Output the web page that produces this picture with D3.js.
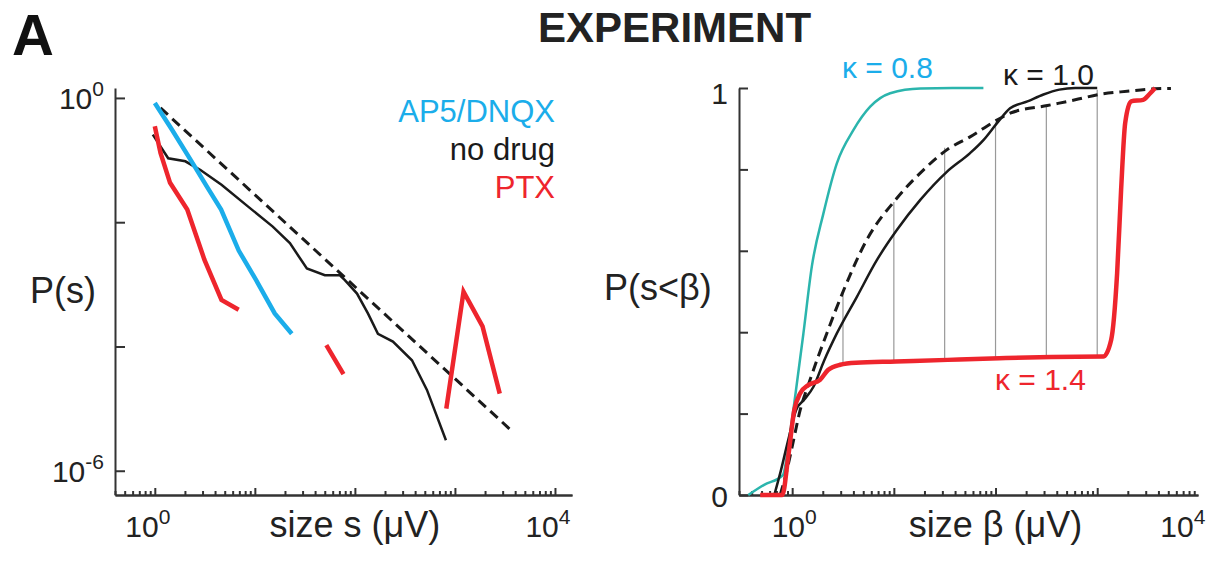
<!DOCTYPE html>
<html>
<head>
<meta charset="utf-8">
<script src="https://cdn.jsdelivr.net/npm/d3@7"></script>
<style>
  body { margin: 0; background: #fff; }
  svg { display: block; font-family: 'Liberation Sans', Arial, sans-serif; }
  .axis path, .axis line { stroke: #333; stroke-width: 2; }
  .axis text { display: none; }
</style>
</head>
<body>
<script>
// left panel: P(s), log-log
const blueX = [1, 1.48, 2.5, 3.4, 4.6, 6.9, 10.2, 15.8, 23.4];
const blueY = [0.83, 0.31, 0.079, 0.035, 0.016, 0.0035, 0.0012, 0.00034, 0.00016];

const blackX = [0.955, 1.36, 2.02, 2.86, 4.64, 8.57, 15.1, 22.4, 33.1, 50.1, 70.8, 79.4, 105, 135, 170, 240, 372, 525, 813];
const blackY = [0.257, 0.107, 0.0955, 0.069, 0.04, 0.0178, 0.0085, 0.0046, 0.0018, 0.0014, 0.0014, 0.00117, 0.00071, 0.00034, 0.00016, 0.00012, 6.0e-5, 2.0e-5, 3.1e-6];

// null marks a gap in the PTX curve
const redX = [1, 1.14, 1.42, 2.11, 3.13, 4.64, 6.89, null, 51.8, 76.9, null, 820, 1219, 1888, 2805];
const redY = [0.35, 0.13, 0.043, 0.016, 0.0025, 0.00056, 0.00039, null, 1.05e-4, 3.6e-5, null, 1.0e-5, 7.6e-4, 2.1e-4, 1.74e-5];

const fitX = [1.14, 3800];
const fitY = [0.69, 4.2e-6];

const legendNames = ['AP5/DNQX', 'no drug', 'PTX'];

// right panel: P(s<beta), log-linear
const cTealX = [0.37, 0.53, 0.81, 0.95, 1.07, 1.29, 1.56, 2.03, 2.75, 4.01, 5.85, 9.2, 18.2, 76];
const cTealY = [0, 0.025, 0.049, 0.15, 0.242, 0.397, 0.561, 0.692, 0.815, 0.897, 0.954, 0.987, 0.999, 1.0];

const cBlackX = [0.667, 0.762, 0.914, 1.094, 1.31, 1.62, 2.06, 2.75, 4.33, 6.8, 10.7, 18.2, 33.2, 56.2, 76, 103, 139, 206, 296, 424, 608, 1000];
const cBlackY = [0, 0.053, 0.135, 0.209, 0.234, 0.266, 0.33, 0.397, 0.487, 0.577, 0.651, 0.725, 0.794, 0.84, 0.872, 0.913, 0.95, 0.967, 0.984, 0.996, 1.0, 1.0];

const cFitX = [0.762, 0.873, 1.0, 1.2, 1.5, 2.19, 3.32, 5.42, 10.7, 19.6, 33.2, 56.2, 103, 139, 324, 608, 1047, 1968, 3707, 5310];
const cFitY = [0, 0.053, 0.119, 0.209, 0.283, 0.397, 0.512, 0.627, 0.729, 0.799, 0.848, 0.88, 0.921, 0.938, 0.957, 0.971, 0.984, 0.992, 0.998, 0.999];

const cRedX = [0.485, 0.8, 0.914, 1.05, 1.2, 1.44, 1.88, 2.25, 2.96, 4.24, 10.5, 33.8, 109, 354, 1146, 1371, 1570, 1718, 1884, 2153, 2825, 3236, 3707];
const cRedY = [0, 0, 0.094, 0.209, 0.25, 0.27, 0.283, 0.307, 0.32, 0.325, 0.328, 0.332, 0.336, 0.339, 0.34, 0.381, 0.545, 0.75, 0.914, 0.967, 0.971, 0.984, 1.0];

// grey difference bars between the curves
const gapX = [3.16, 10, 31.6, 100, 316, 1000];
const gapLow = [0.324, 0.328, 0.332, 0.336, 0.339, 0.34];
const gapHigh = [0.496, 0.72, 0.853, 0.916, 0.959, 0.996];

const kappaLabels = ['κ = 0.8', 'κ = 1.0', 'κ = 1.4'];

const blue = '#1badea', red = '#ee252d', teal = '#2bb5ad', ink = '#1a1a1a';

const svg = d3.select('body').append('svg')
  .attr('width', 1219)
  .attr('height', 563);

const xL = d3.scaleLog().domain([0.4, 14800]).range([115, 572]);
const yL = d3.scaleLog().domain([4.07e-7, 1.445]).range([495, 88]);
const xR = d3.scaleLog().domain([0.3, 9800]).range([739, 1198]);
const yR = d3.scaleLinear().domain([0, 1]).range([495, 88]);

const logTicks = (lo, hi) => {
  const out = [];
  for (let e = -1; e <= 4; e++) {
    for (let m = 1; m <= 9; m++) {
      const v = m * Math.pow(10, e);
      if (v >= lo && v <= hi) out.push(v);
    }
  }
  return out;
};

const zip = (xs, ys) => xs.map((x, i) => [x, ys[i]]);

// x axes: minor ticks and longer decade ticks
[[xL, 0.4, 14800], [xR, 0.3, 9800]].forEach(([sc, lo, hi]) => {
  const all = logTicks(lo, hi);
  svg.append('g').attr('class', 'axis')
    .attr('transform', 'translate(0,495)')
    .call(d3.axisBottom(sc).tickValues(all.filter(v => Math.abs(Math.log10(v) % 1) > 1e-6)).tickSizeInner(-4).tickSizeOuter(0));
  svg.append('g').attr('class', 'axis')
    .attr('transform', 'translate(0,495)')
    .call(d3.axisBottom(sc).tickValues(all.filter(v => Math.abs(Math.log10(v) % 1) < 1e-6)).tickSizeInner(-7).tickSizeOuter(0));
});

svg.append('g').attr('class', 'axis')
  .attr('transform', 'translate(115,0)')
  .call(d3.axisLeft(yL).tickValues([1, 1e-2, 1e-4, 1e-6]).tickSizeInner(-10).tickSizeOuter(0));

svg.append('g').attr('class', 'axis')
  .attr('transform', 'translate(739,0)')
  .call(d3.axisLeft(yR).tickValues([0, 0.2, 0.4, 0.6, 0.8, 1]).tickSizeInner(-9).tickSizeOuter(0));

// tick labels
const power = (x, y, exp, anchor) => {
  const t = svg.append('text')
    .attr('x', x).attr('y', y)
    .attr('text-anchor', anchor)
    .attr('fill', '#222')
    .style('font-size', '30px');
  t.append('tspan').text('10');
  t.append('tspan').attr('dy', -13).style('font-size', '21px').text(exp);
};
power(104, yL(1) + 11, '0', 'end');
power(104, yL(1e-6) + 11, '-6', 'end');
power(xL(1) - 7, 537, '0', 'middle');
power(xL(1e4) - 7, 537, '4', 'middle');
power(xR(1) + 2, 537, '0', 'middle');
power(xR(1e4) - 16, 537, '4', 'middle');

svg.append('text').attr('x', 728).attr('y', yR(1) + 16)
  .attr('text-anchor', 'end').attr('fill', '#222').style('font-size', '30px').text('1');
svg.append('text').attr('x', 728).attr('y', yR(0) + 12)
  .attr('text-anchor', 'end').attr('fill', '#222').style('font-size', '30px').text('0');

// axis titles
const title = (x, y, txt, anchor, size) => svg.append('text')
  .attr('x', x).attr('y', y)
  .attr('text-anchor', anchor)
  .attr('fill', '#222')
  .style('font-size', size + 'px')
  .text(txt);
title(30, 303, 'P(s)', 'start', 36);
title(604, 300, 'P(s<β)', 'start', 36);
title(xL(100), 537, 'size s (μV)', 'middle', 36);
title(xR(100), 537, 'size β (μV)', 'middle', 36);

svg.append('text').attr('x', 12).attr('y', 55)
  .style('font-size', '58px').style('font-weight', 'bold').attr('fill', '#111').text('A');
svg.append('text').attr('x', 538).attr('y', 42)
  .style('font-size', '42px').style('font-weight', 'bold').attr('fill', '#222').text('EXPERIMENT');

// left panel lines
const lineL = d3.line()
  .defined(d => d[0] !== null)
  .x(d => xL(d[0]))
  .y(d => yL(d[1]));

svg.append('path').datum(zip(fitX, fitY))
  .attr('d', lineL).attr('fill', 'none')
  .attr('stroke', ink).attr('stroke-width', 3).attr('stroke-dasharray', '10,6');
svg.append('path').datum(zip(blackX, blackY))
  .attr('d', lineL).attr('fill', 'none')
  .attr('stroke', ink).attr('stroke-width', 2.5);
svg.append('path').datum(zip(blueX, blueY))
  .attr('d', lineL).attr('fill', 'none')
  .attr('stroke', blue).attr('stroke-width', 4.5);
svg.append('path').datum(zip(redX, redY))
  .attr('d', lineL).attr('fill', 'none')
  .attr('stroke', red).attr('stroke-width', 4.5);

const legColors = [blue, ink, red];
legendNames.forEach((name, i) => {
  svg.append('text')
    .attr('x', 555).attr('y', 122 + i * 38)
    .attr('text-anchor', 'end')
    .attr('fill', legColors[i])
    .style('font-size', '31px')
    .text(name);
});

// right panel
svg.append('g').selectAll('line')
  .data(gapX)
  .enter()
  .append('line')
  .attr('x1', d => xR(d)).attr('x2', d => xR(d))
  .attr('y1', (d, i) => yR(gapLow[i]))
  .attr('y2', (d, i) => yR(gapHigh[i]))
  .attr('stroke', '#999').attr('stroke-width', 1.2);

const lineR = d3.line()
  .curve(d3.curveMonotoneX)
  .x(d => xR(d[0]))
  .y(d => yR(d[1]));

svg.append('path').datum(zip(cTealX, cTealY))
  .attr('d', lineR).attr('fill', 'none')
  .attr('stroke', teal).attr('stroke-width', 2.5);
svg.append('path').datum(zip(cFitX, cFitY))
  .attr('d', lineR).attr('fill', 'none')
  .attr('stroke', ink).attr('stroke-width', 3).attr('stroke-dasharray', '10,6');
svg.append('path').datum(zip(cBlackX, cBlackY))
  .attr('d', lineR).attr('fill', 'none')
  .attr('stroke', ink).attr('stroke-width', 2.5);
svg.append('path').datum(zip(cRedX, cRedY))
  .attr('d', lineR).attr('fill', 'none')
  .attr('stroke', red).attr('stroke-width', 4.5);

const kPos = [[842, 78, blue], [1003, 85, ink], [995, 390, red]];
kappaLabels.forEach((k, i) => {
  svg.append('text')
    .attr('x', kPos[i][0]).attr('y', kPos[i][1])
    .attr('fill', kPos[i][2])
    .style('font-size', '30px')
    .text(k);
});
</script>
</body>
</html>
